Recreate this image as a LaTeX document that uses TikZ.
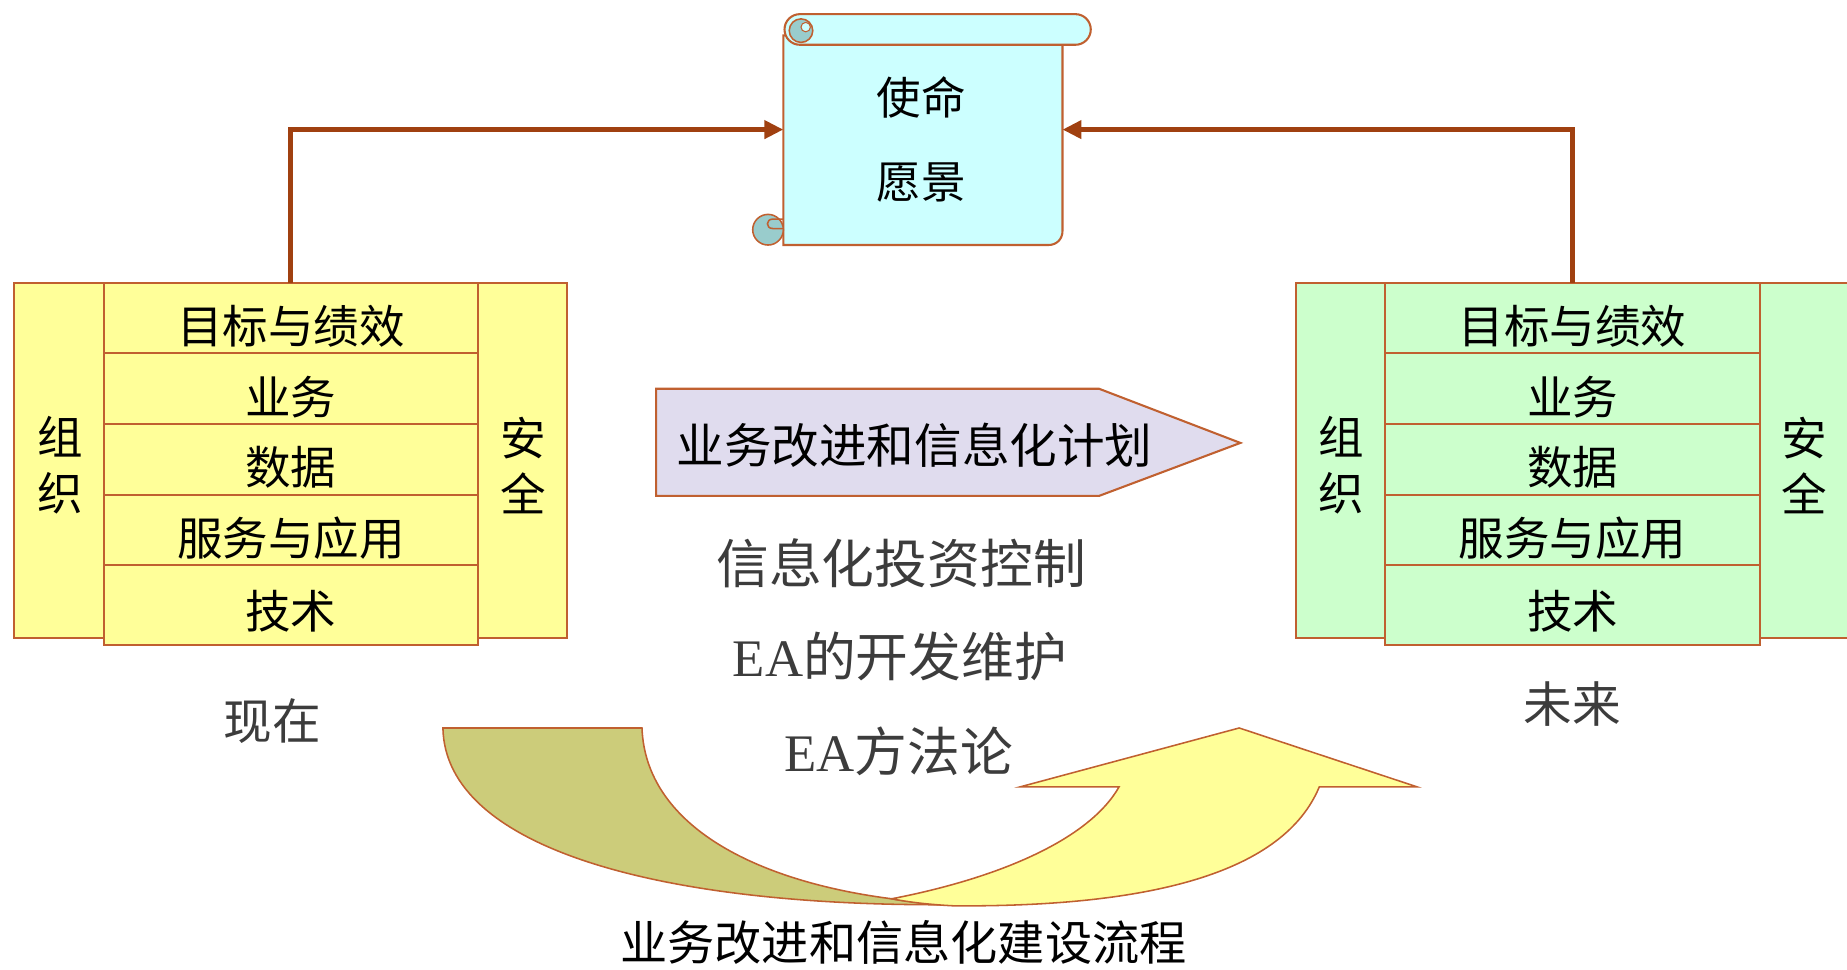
\documentclass[tikz,border=0pt]{standalone}
\usepackage{fontspec}
\newfontfamily\cjk{Noto Sans CJK SC}
\newfontfamily\lat{Liberation Serif}
\usepackage{xcolor}
\definecolor{Edge}{RGB}{192,96,48}
\definecolor{Link}{RGB}{160,64,16}
\definecolor{Scroll}{RGB}{204,255,255}
\definecolor{Curl}{RGB}{153,204,204}
\definecolor{Now}{RGB}{255,255,153}
\definecolor{Future}{RGB}{204,255,204}
\definecolor{Plan}{RGB}{224,220,238}
\definecolor{Olive}{RGB}{204,204,122}
\definecolor{Pale}{RGB}{255,255,153}
\definecolor{Grey}{RGB}{60,60,60}
\usetikzlibrary{positioning,arrows.meta}

\begin{document}
\begin{tikzpicture}[x=0.02cm, y=-0.02cm,
		layer/.style={draw=Edge, line width=1pt, minimum width=6.36cm, minimum height=1.2cm, inner sep=0pt, outer sep=0pt, text height=0.87cm, text depth=0pt, font=\cjk\fontsize{22}{26}\selectfont},
		side/.style={align=center, font=\cjk\fontsize{22}{27}\selectfont},
		link/.style={draw=Link, line width=2.4pt, -{Triangle[length=0.32cm, width=0.3cm]}},
		caption/.style={color=Grey, font=\cjk\fontsize{25.5}{30}\selectfont}]
		
		\useasboundingbox (0,0) rectangle (1568,823);
		
		% Scroll
		\filldraw[fill=Scroll, draw=Edge, line width=1pt] (665,30) -- (665,208) -- (890,208) .. controls (897,208) and (902,203) .. (902,196) -- (902,37) -- cycle;
		\filldraw[fill=Scroll, draw=Edge, line width=1pt, rounded corners=0.26cm] (666,12) rectangle (926,38);
		\filldraw[fill=Curl, draw=Edge, line width=0.75pt] (680,26) circle[radius=10];
		\filldraw[fill=Scroll, draw=Edge, line width=0.5pt] (684,23) circle[radius=4];
		\filldraw[fill=Curl, draw=Edge, line width=0.75pt] (652,195) circle[radius=13];
		\draw[draw=Edge, line width=0.75pt] (665,186) -- (656,186) .. controls (650,186) and (650,194) .. (656,194) -- (665,194);
		\node[font=\cjk\fontsize{21.5}{26}\selectfont] (mission) at (782,83) {使命};
		\node[font=\cjk\fontsize{21.5}{26}\selectfont] (vision) at (782,155) {愿景};
		\coordinate (scrollL) at (665,110);
		\coordinate (scrollR) at (902,110);
		
		% Now
		\filldraw[fill=Now, draw=Edge, line width=1pt] (12,240) rectangle (481,542);
		\node[layer, fill=Now, anchor=north] (lgoal) at (247,240) {目标与绩效};
		\node[layer, fill=Now, below=0pt of lgoal] (lbiz) {业务};
		\node[layer, fill=Now, below=0pt of lbiz] (ldata) {数据};
		\node[layer, fill=Now, below=0pt of ldata] (lapp) {服务与应用};
		\node[layer, fill=Now, below=0pt of lapp, minimum height=1.36cm, text height=0.79cm] (ltech) {技术};
		\node[side] (lorg) at (51,395) {组\\织};
		\node[side] (lsec) at (444,395) {安\\全};
		\node[caption, font=\cjk\fontsize{23.5}{28}\selectfont] (now) at (231,612) {现在};
		
		% Future
		\filldraw[fill=Future, draw=Edge, line width=1pt] (1100,240) rectangle (1572,542);
		\node[layer, fill=Future, anchor=north] (rgoal) at (1335,240) {目标与绩效};
		\node[layer, fill=Future, below=0pt of rgoal] (rbiz) {业务};
		\node[layer, fill=Future, below=0pt of rbiz] (rdata) {数据};
		\node[layer, fill=Future, below=0pt of rdata] (rapp) {服务与应用};
		\node[layer, fill=Future, below=0pt of rapp, minimum height=1.36cm, text height=0.79cm] (rtech) {技术};
		\node[side] (rorg) at (1139,395) {组\\织};
		\node[side] (rsec) at (1532,395) {安\\全};
		\node[caption, font=\cjk\fontsize{23.5}{28}\selectfont] (future) at (1335,598) {未来};
		
		% Links
		\draw[link] (lgoal.north) |- (scrollL);
		\draw[link] (rgoal.north) |- (scrollR);
		
		% Plan
		\filldraw[fill=Plan, draw=Edge, line width=1pt] (557,330) -- (933,330) -- (1053,376) -- (933,421) -- (557,421) -- cycle;
		\node[anchor=west, inner sep=0pt, font=\cjk\fontsize{23}{27}\selectfont] (plan) at (574,378) {业务改进和信息化计划};
		
		% Text
		\node[caption] (invest) at (765,478) {信息化投资控制};
		\node[caption] (develop) at (764,557) {{\lat EA}的开发维护};
		\node[caption] (method) at (763,638) {{\lat EA}方法论};
		
		% Process
		\filldraw[fill=Olive, draw=Edge, line width=0.75pt] (376,618) -- (545,618) .. controls (548,700) and (640,748) .. (757,763) .. controls (775,766) and (795,768) .. (810,768) .. controls (560,770) and (378,720) .. (376,618) -- cycle;
		\filldraw[fill=Pale, draw=Edge, line width=0.75pt] (757,763) .. controls (850,745) and (925,712) .. (950,668) -- (866,668) -- (1052,618) -- (1203,668) -- (1120,668) .. controls (1090,740) and (980,770) .. (810,769) .. controls (790,768) and (772,766) .. (757,763) -- cycle;
		\node[font=\cjk\fontsize{22.8}{27}\selectfont] (process) at (767,800) {业务改进和信息化建设流程};
		
	\end{tikzpicture}
\end{document}
